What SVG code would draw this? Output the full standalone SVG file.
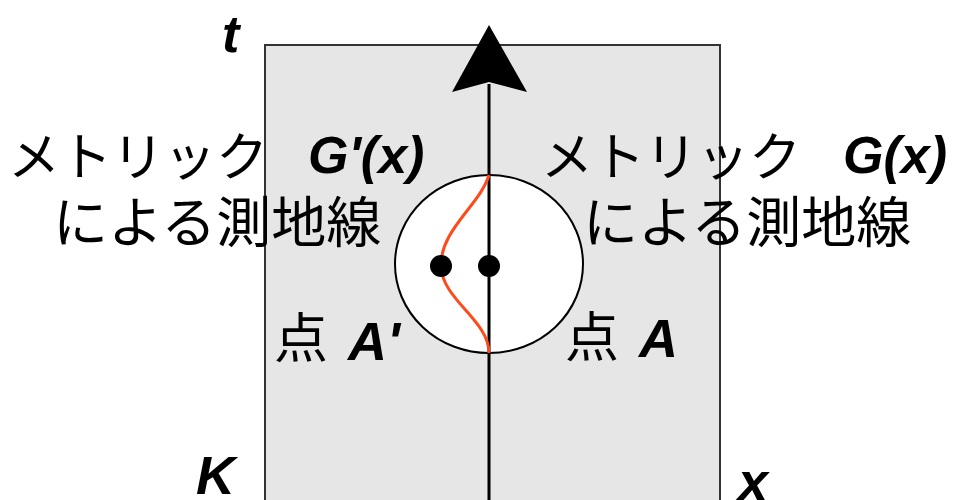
<svg xmlns="http://www.w3.org/2000/svg" width="953" height="500" viewBox="0 0 953 500">
<style>
.jp{font-family:"Noto Sans CJK JP","Noto Sans",sans-serif;fill:#000}
.lat{font-family:"Liberation Sans",Arial,sans-serif;font-weight:bold;font-style:italic;fill:#000}
</style>
<rect width="953" height="500" fill="#fff"/>
<g id="frame">
<rect x="265" y="45" width="455" height="470" fill="#e6e6e6" stroke="#333" stroke-width="2"/>
</g>
<g id="region">
<ellipse cx="489" cy="264" rx="94" ry="89" fill="#fff" stroke="#000" stroke-width="2"/>
</g>
<g id="connectors">
<line x1="489" y1="510" x2="489" y2="84" stroke="#000" stroke-width="3"/>
<polygon points="489,25 527,92 489,82 452,92" fill="#000"/>
<path d="M489,175 C480,205 440,230 441,266 C442,300 489,320 489,353" fill="none" stroke="#ff4a1c" stroke-width="3"/>
</g>
<g id="pointA">
<circle cx="489" cy="266" r="11" fill="#000"/>
</g>
<g id="pointA2">
<circle cx="441" cy="266" r="11" fill="#000"/>
</g>
<g id="labels">
<text x="222" y="52" class="lat" font-size="52">t</text>
<text x="196" y="494" class="lat" font-size="54">K</text>
<text x="738" y="500" class="lat" font-size="54">x</text>
<text x="8" y="176" class="jp" font-size="52">メトリック</text>
<text x="308" y="173" class="lat" font-size="52">G'(x)</text>
<text x="53" y="242" class="jp" font-size="55">による測地線</text>
<text x="541" y="176" class="jp" font-size="52">メトリック</text>
<text x="843" y="173" class="lat" font-size="52">G(x)</text>
<text x="583" y="242" class="jp" font-size="55">による測地線</text>
<text x="274" y="358" class="jp" font-size="54">点</text>
<text x="348" y="360" class="lat" font-size="54">A'</text>
<text x="565" y="357" class="jp" font-size="54">点</text>
<text x="639" y="357" class="lat" font-size="54">A</text>
</g>
</svg>
